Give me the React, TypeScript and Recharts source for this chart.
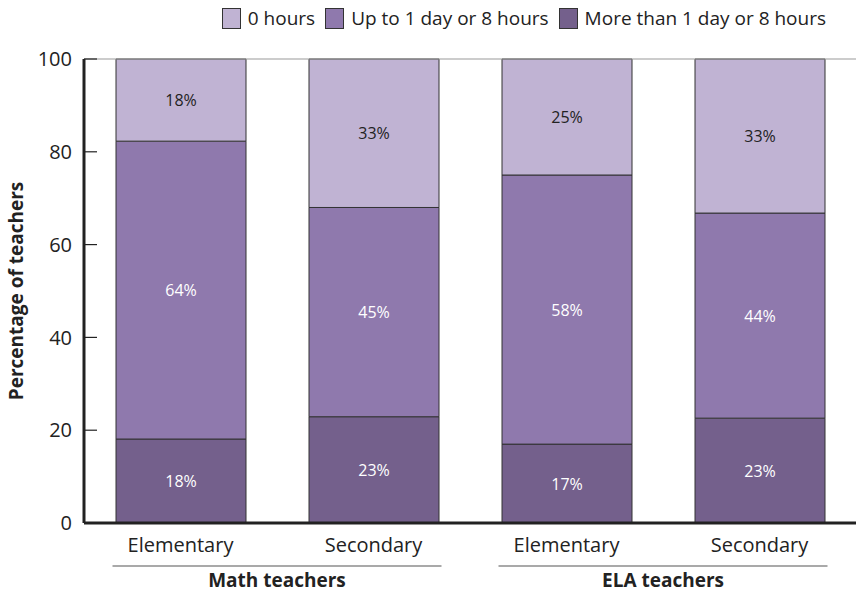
import { BarChart, Bar, XAxis, YAxis, LabelList, ReferenceLine } from "recharts";

const categories = ["Elementary", "Secondary", "Elementary", "Secondary"];
const groups = ["Math teachers", "Math teachers", "ELA teachers", "ELA teachers"];

// stacked values (bottom to top)
const moreThanDay = [18.1, 22.9, 17.0, 22.6];
const upToDay = [64.2, 45.1, 58.0, 44.2];
const zeroHours = [17.7, 32.0, 25.0, 33.2];

// printed labels
const moreThanDayLabels = ["18%", "23%", "17%", "23%"];
const upToDayLabels = ["64%", "45%", "58%", "44%"];
const zeroHoursLabels = ["18%", "33%", "25%", "33%"];

const yTicks = [0, 20, 40, 60, 80, 100];

const FONT = "'Open Sans', 'Noto Sans', sans-serif";
const COLORS = { zero: "#c0b3d3", upto: "#8f79ad", more: "#74608c" };

const data = categories.map((name, i) => ({
  name,
  group: groups[i],
  more: moreThanDay[i],
  upto: upToDay[i],
  zero: zeroHours[i],
}));

const makeLabel = (labels: string[], color: string) => (props: any) => {
  const { x, y, width, height, index } = props;
  return (
    <text
      x={x + width / 2}
      y={y + height / 2}
      textAnchor="middle"
      dominantBaseline="central"
      fill={color}
      fontSize={16}
      fontFamily={FONT}
    >
      {labels[index]}
    </text>
  );
};

const CategoryTick = (props: any) => {
  const { x, y, payload, index } = props;
  const half = payload.offset || 96;
  const first = index % 2 === 0;
  return (
    <g>
      <text x={x} y={y + 21} textAnchor="middle" fontSize={20} fontFamily={FONT} fill="#222">
        {payload.value}
      </text>
      {first && (
        <g>
          <line x1={x - 68} x2={x + 2 * half + 68} y1={y + 35} y2={y + 35} stroke="#555" strokeWidth={1.2} />
          <text
            x={x + half}
            y={y + 56}
            textAnchor="middle"
            fontSize={19}
            fontWeight="bold"
            fontFamily={FONT}
            fill="#222"
          >
            {groups[index]}
          </text>
        </g>
      )}
    </g>
  );
};

const legendItems = [
  { label: "0 hours", color: COLORS.zero },
  { label: "Up to 1 day or 8 hours", color: COLORS.upto },
  { label: "More than 1 day or 8 hours", color: COLORS.more },
];

export default function App() {
  return (
    <div style={{ position: "absolute", left: 0, top: 0, width: 856, height: 593, background: "#fff" }}>
      <div
        style={{
          position: "absolute",
          top: 5,
          right: 30,
          display: "flex",
          gap: 10,
          fontFamily: FONT,
          fontSize: 19,
          color: "#222",
          alignItems: "center",
        }}
      >
        {legendItems.map((it) => (
          <div key={it.label} style={{ display: "flex", alignItems: "center", gap: 7 }}>
            <span
              style={{
                display: "inline-block",
                width: 17,
                height: 19,
                background: it.color,
                border: "1px solid #333",
              }}
            />
            <span>{it.label}</span>
          </div>
        ))}
      </div>
      <BarChart
        width={856}
        height={593}
        data={data}
        margin={{ top: 59, right: 0, bottom: 0, left: 0 }}
        barSize={130}
      >
        <YAxis
          type="number"
          domain={[0, 100]}
          ticks={yTicks}
          width={84}
          tickSize={-13}
          tickMargin={25}
          axisLine={{ stroke: "#222", strokeWidth: 3 }}
          tickLine={{ stroke: "#222", strokeWidth: 1.2 }}
          tick={{ fontSize: 20, fontFamily: FONT, fill: "#222" }}
          label={{
            value: "Percentage of teachers",
            angle: -90,
            position: "insideLeft",
            dx: 11,
            style: { textAnchor: "middle", fontSize: 19, fontWeight: "bold", fontFamily: FONT, fill: "#222" },
          }}
        />
        <XAxis
          dataKey="name"
          height={70}
          interval={0}
          tickLine={false}
          axisLine={{ stroke: "#222", strokeWidth: 3 }}
          tick={<CategoryTick />}
        />
        <ReferenceLine y={100} stroke="#999" strokeWidth={1.2} />
        <Bar dataKey="more" stackId="a" fill={COLORS.more} stroke="#333" strokeWidth={1} isAnimationActive={false}>
          <LabelList dataKey="more" content={makeLabel(moreThanDayLabels, "#fff")} />
        </Bar>
        <Bar dataKey="upto" stackId="a" fill={COLORS.upto} stroke="#333" strokeWidth={1} isAnimationActive={false}>
          <LabelList dataKey="upto" content={makeLabel(upToDayLabels, "#fff")} />
        </Bar>
        <Bar dataKey="zero" stackId="a" fill={COLORS.zero} stroke="#333" strokeWidth={1} isAnimationActive={false}>
          <LabelList dataKey="zero" content={makeLabel(zeroHoursLabels, "#222")} />
        </Bar>
      </BarChart>
    </div>
  );
}
